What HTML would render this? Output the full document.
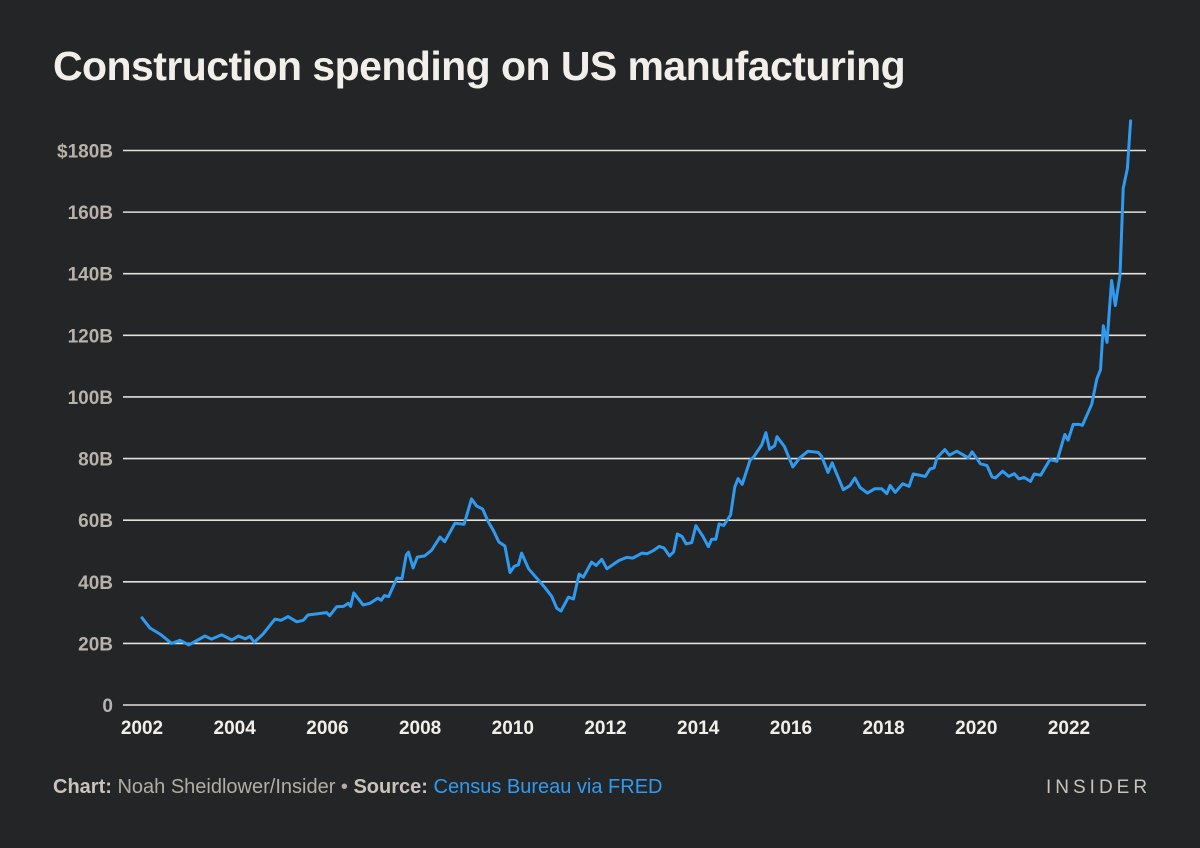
<!DOCTYPE html>
<html><head><meta charset="utf-8"><style>
body{margin:0;background:#242526;}
#wrap{position:relative;width:1200px;height:848px;background:#242526;font-family:"Liberation Sans",sans-serif;overflow:hidden}
#title{position:absolute;left:53px;top:43px;font-size:41px;font-weight:bold;color:#f2efea;letter-spacing:-0.55px}
#footer{position:absolute;left:53px;top:776px;font-size:20px;color:#b3ada5}
#footer b{color:#c9c3bb}
#footer span.src{color:#2f9bf0}
#brand{position:absolute;left:1046px;top:777px;font-size:19px;color:#c9c3bb;letter-spacing:4px}
</style></head><body>
<div id="wrap">
<div id="title">Construction spending on US manufacturing</div>
<svg id="chart" width="1200" height="848" style="position:absolute;left:0;top:0"></svg>
<div id="footer"><b>Chart:</b> Noah Sheidlower/Insider • <b>Source:</b> <span class="src">Census Bureau via FRED</span></div>
<div id="brand">INSIDER</div>
</div>
<script>
const yTicks=[0,20,40,60,80,100,120,140,160,180];
const yTickLabels=["0","20B","40B","60B","80B","100B","120B","140B","160B","$180B"];
const xTicks=[2002,2004,2006,2008,2010,2012,2014,2016,2018,2020,2022];
const dates=[2002.0,2002.17,2002.39,2002.64,2002.82,2003.01,2003.36,2003.5,2003.72,2003.94,2004.08,2004.23,2004.33,2004.42,2004.61,2004.87,2005.0,2005.15,2005.34,2005.48,2005.58,2005.98,2006.05,2006.2,2006.35,2006.45,2006.5,2006.57,2006.77,2006.92,2007.09,2007.16,2007.23,2007.32,2007.5,2007.61,2007.7,2007.75,2007.85,2007.94,2008.1,2008.25,2008.43,2008.53,2008.75,2008.95,2009.11,2009.22,2009.35,2009.47,2009.58,2009.7,2009.83,2009.94,2010.03,2010.12,2010.19,2010.34,2010.48,2010.7,2010.84,2010.95,2011.04,2011.2,2011.31,2011.43,2011.52,2011.7,2011.8,2011.92,2012.03,2012.29,2012.46,2012.59,2012.79,2012.9,2013.04,2013.16,2013.26,2013.38,2013.47,2013.55,2013.65,2013.74,2013.86,2013.95,2014.1,2014.22,2014.29,2014.38,2014.45,2014.55,2014.7,2014.79,2014.86,2014.95,2015.12,2015.19,2015.37,2015.46,2015.54,2015.65,2015.7,2015.86,2016.04,2016.19,2016.37,2016.59,2016.66,2016.8,2016.89,2017.13,2017.27,2017.38,2017.49,2017.65,2017.81,2017.96,2018.07,2018.14,2018.25,2018.41,2018.55,2018.64,2018.9,2019.0,2019.09,2019.15,2019.32,2019.42,2019.58,2019.83,2019.91,2020.09,2020.23,2020.34,2020.41,2020.57,2020.7,2020.82,2020.92,2021.03,2021.17,2021.25,2021.39,2021.59,2021.74,2021.91,2021.98,2022.09,2022.22,2022.29,2022.49,2022.6,2022.68,2022.74,2022.82,2022.92,2023.0,2023.1,2023.17,2023.26,2023.33];
const values=[28.3,25,23,20,21,19.5,22.4,21.4,22.8,21.1,22.4,21.5,22.3,20.4,23,27.9,27.5,28.7,27,27.5,29.2,30,29,31.9,32,33,32,36.4,32.5,33,34.7,34,35.5,35.2,41.2,41,48.7,49.6,44.5,48,48.4,50.3,54.5,53,59,58.7,66.9,64.6,63.6,59.5,56.7,52.9,51.6,43,45,45.5,49.3,44.2,41.8,38,35.3,31.4,30.5,35,34.4,42.5,41.5,46.4,45.3,47.3,44.2,46.9,47.9,47.7,49.3,49.1,50.2,51.5,51,48.4,49.7,55.5,54.7,52.3,52.7,58.2,54.8,51.4,53.8,53.8,58.8,58.3,61.7,70.8,73.5,71.6,79.5,80.4,84.4,88.4,83,84.2,87.1,83.9,77.3,80.2,82.4,82,80.8,75.5,78.6,69.9,71.2,73.7,70.6,68.8,70.2,70.2,68.6,71.3,69,71.8,71,75,74.2,76.6,77,80.2,82.9,81.1,82.4,80.2,82.2,78.3,77.7,74,73.7,75.9,74.2,75.1,73.4,73.9,72.6,75,74.6,79.7,79.1,87.8,86,91.1,91.1,90.8,97.6,105.8,108.8,123.1,117.7,137.8,129.7,139.5,167.7,174.2,189.6];
const NS="http://www.w3.org/2000/svg";
const svg=document.getElementById('chart');
const xS=d=>142+(d-2002)*46.35;
const yS=v=>705-v*3.0805;
function mk(t,a){const e=document.createElementNS(NS,t);for(const k in a)e.setAttribute(k,a[k]);svg.appendChild(e);return e;}
yTicks.forEach((v,i)=>{
  const l=mk('line',{x1:123,x2:1146,y1:yS(v),y2:yS(v),stroke:'#e4e0da','stroke-width':1.6});
  
  
  const t=mk('text',{x:113,y:yS(v)+7,'text-anchor':'end','font-size':19,'font-weight':'bold',fill:'#b8b2aa','font-family':'Liberation Sans, sans-serif'});
  t.textContent=yTickLabels[i];
  
  
});
xTicks.forEach(d=>{
  const t=mk('text',{x:xS(d),y:734,'text-anchor':'middle','font-size':19,'font-weight':'bold',fill:'#f2efea','font-family':'Liberation Sans, sans-serif'});
  t.textContent=d;
  
  
});
const p=mk('polyline',{points:dates.map((d,i)=>xS(d).toFixed(1)+','+yS(values[i]).toFixed(1)).join(' '),fill:'none',stroke:'#2f9bf0','stroke-width':3,'stroke-linejoin':'round','stroke-linecap':'round'});


</script>
</body></html>
